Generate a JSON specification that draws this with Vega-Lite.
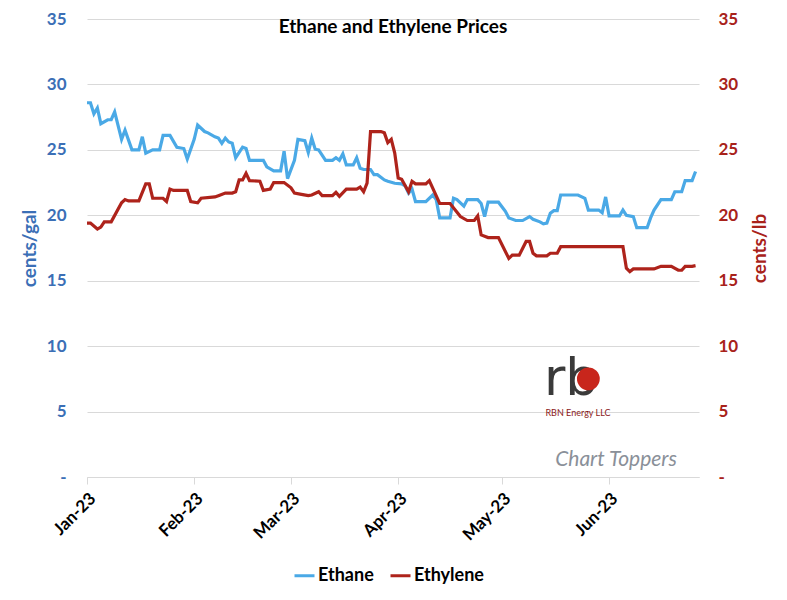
{
  "$schema": "https://vega.github.io/schema/vega-lite/v6.json",
  "width": 612,
  "height": 458,
  "autosize": "none",
  "padding": {"left": 87, "top": 19, "right": 88, "bottom": 123},
  "background": "white",
  "config": {
    "font": "Lato",
    "view": {"stroke": null},
    "axis": {"labelFont": "Lato", "titleFont": "Lato"},
    "legend": {"labelFont": "Lato"}
  },
  "title": {
    "text": "Ethane and Ethylene Prices",
    "font": "Lato",
    "fontSize": 19,
    "fontWeight": "bold",
    "color": "#000000",
    "anchor": "middle",
    "offset": 0,
    "dy": 27
  },
  "data": {
    "format": {"parse": {"date": "date:'%Y-%m-%d'"}},
    "values": [
      {"date": "2023-01-01", "series": "Ethane", "value": 28.6},
      {"date": "2023-01-02", "series": "Ethane", "value": 28.6},
      {"date": "2023-01-03", "series": "Ethane", "value": 27.75},
      {"date": "2023-01-04", "series": "Ethane", "value": 28.2},
      {"date": "2023-01-05", "series": "Ethane", "value": 27.0},
      {"date": "2023-01-07", "series": "Ethane", "value": 27.3},
      {"date": "2023-01-08", "series": "Ethane", "value": 27.3},
      {"date": "2023-01-09", "series": "Ethane", "value": 27.9},
      {"date": "2023-01-11", "series": "Ethane", "value": 25.8},
      {"date": "2023-01-12", "series": "Ethane", "value": 26.5},
      {"date": "2023-01-14", "series": "Ethane", "value": 25.0},
      {"date": "2023-01-16", "series": "Ethane", "value": 25.0},
      {"date": "2023-01-17", "series": "Ethane", "value": 26.0},
      {"date": "2023-01-18", "series": "Ethane", "value": 24.75},
      {"date": "2023-01-20", "series": "Ethane", "value": 25.0},
      {"date": "2023-01-22", "series": "Ethane", "value": 25.0},
      {"date": "2023-01-23", "series": "Ethane", "value": 26.1},
      {"date": "2023-01-25", "series": "Ethane", "value": 26.1},
      {"date": "2023-01-27", "series": "Ethane", "value": 25.2},
      {"date": "2023-01-29", "series": "Ethane", "value": 25.1},
      {"date": "2023-01-30", "series": "Ethane", "value": 24.3},
      {"date": "2023-02-01", "series": "Ethane", "value": 25.8},
      {"date": "2023-02-02", "series": "Ethane", "value": 26.9},
      {"date": "2023-02-04", "series": "Ethane", "value": 26.4},
      {"date": "2023-02-05", "series": "Ethane", "value": 26.3},
      {"date": "2023-02-07", "series": "Ethane", "value": 26.0},
      {"date": "2023-02-08", "series": "Ethane", "value": 25.9},
      {"date": "2023-02-09", "series": "Ethane", "value": 25.5},
      {"date": "2023-02-10", "series": "Ethane", "value": 25.9},
      {"date": "2023-02-11", "series": "Ethane", "value": 25.6},
      {"date": "2023-02-12", "series": "Ethane", "value": 25.5},
      {"date": "2023-02-13", "series": "Ethane", "value": 24.4},
      {"date": "2023-02-15", "series": "Ethane", "value": 25.2},
      {"date": "2023-02-16", "series": "Ethane", "value": 25.1},
      {"date": "2023-02-17", "series": "Ethane", "value": 24.2},
      {"date": "2023-02-21", "series": "Ethane", "value": 24.2},
      {"date": "2023-02-22", "series": "Ethane", "value": 23.7},
      {"date": "2023-02-24", "series": "Ethane", "value": 23.4},
      {"date": "2023-02-26", "series": "Ethane", "value": 23.4},
      {"date": "2023-02-27", "series": "Ethane", "value": 24.9},
      {"date": "2023-02-28", "series": "Ethane", "value": 22.8},
      {"date": "2023-03-02", "series": "Ethane", "value": 24.2},
      {"date": "2023-03-03", "series": "Ethane", "value": 25.8},
      {"date": "2023-03-05", "series": "Ethane", "value": 25.7},
      {"date": "2023-03-06", "series": "Ethane", "value": 24.8},
      {"date": "2023-03-07", "series": "Ethane", "value": 25.9},
      {"date": "2023-03-08", "series": "Ethane", "value": 25.05},
      {"date": "2023-03-09", "series": "Ethane", "value": 25.0},
      {"date": "2023-03-11", "series": "Ethane", "value": 24.2},
      {"date": "2023-03-13", "series": "Ethane", "value": 24.2},
      {"date": "2023-03-14", "series": "Ethane", "value": 24.4},
      {"date": "2023-03-15", "series": "Ethane", "value": 24.2},
      {"date": "2023-03-16", "series": "Ethane", "value": 24.7},
      {"date": "2023-03-17", "series": "Ethane", "value": 23.85},
      {"date": "2023-03-19", "series": "Ethane", "value": 23.85},
      {"date": "2023-03-20", "series": "Ethane", "value": 24.4},
      {"date": "2023-03-21", "series": "Ethane", "value": 23.6},
      {"date": "2023-03-22", "series": "Ethane", "value": 23.5},
      {"date": "2023-03-24", "series": "Ethane", "value": 23.5},
      {"date": "2023-03-25", "series": "Ethane", "value": 23.1},
      {"date": "2023-03-26", "series": "Ethane", "value": 23.1},
      {"date": "2023-03-28", "series": "Ethane", "value": 22.7},
      {"date": "2023-03-29", "series": "Ethane", "value": 22.6},
      {"date": "2023-03-31", "series": "Ethane", "value": 22.45},
      {"date": "2023-04-02", "series": "Ethane", "value": 22.4},
      {"date": "2023-04-03", "series": "Ethane", "value": 22.25},
      {"date": "2023-04-04", "series": "Ethane", "value": 21.7},
      {"date": "2023-04-05", "series": "Ethane", "value": 22.0},
      {"date": "2023-04-06", "series": "Ethane", "value": 21.05},
      {"date": "2023-04-09", "series": "Ethane", "value": 21.05},
      {"date": "2023-04-11", "series": "Ethane", "value": 21.55},
      {"date": "2023-04-12", "series": "Ethane", "value": 21.2},
      {"date": "2023-04-13", "series": "Ethane", "value": 19.8},
      {"date": "2023-04-16", "series": "Ethane", "value": 19.8},
      {"date": "2023-04-17", "series": "Ethane", "value": 21.3},
      {"date": "2023-04-18", "series": "Ethane", "value": 21.2},
      {"date": "2023-04-20", "series": "Ethane", "value": 20.7},
      {"date": "2023-04-21", "series": "Ethane", "value": 21.2},
      {"date": "2023-04-24", "series": "Ethane", "value": 21.2},
      {"date": "2023-04-25", "series": "Ethane", "value": 20.9},
      {"date": "2023-04-26", "series": "Ethane", "value": 19.9},
      {"date": "2023-04-27", "series": "Ethane", "value": 21.0},
      {"date": "2023-04-30", "series": "Ethane", "value": 21.0},
      {"date": "2023-05-02", "series": "Ethane", "value": 20.3},
      {"date": "2023-05-03", "series": "Ethane", "value": 19.8},
      {"date": "2023-05-05", "series": "Ethane", "value": 19.6},
      {"date": "2023-05-07", "series": "Ethane", "value": 19.6},
      {"date": "2023-05-09", "series": "Ethane", "value": 19.9},
      {"date": "2023-05-10", "series": "Ethane", "value": 19.7},
      {"date": "2023-05-12", "series": "Ethane", "value": 19.5},
      {"date": "2023-05-13", "series": "Ethane", "value": 19.35},
      {"date": "2023-05-14", "series": "Ethane", "value": 19.4},
      {"date": "2023-05-15", "series": "Ethane", "value": 20.15},
      {"date": "2023-05-16", "series": "Ethane", "value": 20.35},
      {"date": "2023-05-17", "series": "Ethane", "value": 20.35},
      {"date": "2023-05-18", "series": "Ethane", "value": 21.55},
      {"date": "2023-05-23", "series": "Ethane", "value": 21.55},
      {"date": "2023-05-25", "series": "Ethane", "value": 21.3},
      {"date": "2023-05-26", "series": "Ethane", "value": 20.4},
      {"date": "2023-05-29", "series": "Ethane", "value": 20.4},
      {"date": "2023-05-30", "series": "Ethane", "value": 20.2},
      {"date": "2023-05-31", "series": "Ethane", "value": 21.4},
      {"date": "2023-06-01", "series": "Ethane", "value": 19.95},
      {"date": "2023-06-04", "series": "Ethane", "value": 19.95},
      {"date": "2023-06-05", "series": "Ethane", "value": 20.4},
      {"date": "2023-06-06", "series": "Ethane", "value": 20.0},
      {"date": "2023-06-08", "series": "Ethane", "value": 19.9},
      {"date": "2023-06-09", "series": "Ethane", "value": 19.05},
      {"date": "2023-06-12", "series": "Ethane", "value": 19.05},
      {"date": "2023-06-13", "series": "Ethane", "value": 19.8},
      {"date": "2023-06-14", "series": "Ethane", "value": 20.4},
      {"date": "2023-06-16", "series": "Ethane", "value": 21.2},
      {"date": "2023-06-19", "series": "Ethane", "value": 21.2},
      {"date": "2023-06-20", "series": "Ethane", "value": 21.8},
      {"date": "2023-06-22", "series": "Ethane", "value": 21.8},
      {"date": "2023-06-23", "series": "Ethane", "value": 22.65},
      {"date": "2023-06-25", "series": "Ethane", "value": 22.65},
      {"date": "2023-06-26", "series": "Ethane", "value": 23.35},
      {"date": "2023-01-01", "series": "Ethylene", "value": 19.4},
      {"date": "2023-01-02", "series": "Ethylene", "value": 19.4},
      {"date": "2023-01-04", "series": "Ethylene", "value": 18.95},
      {"date": "2023-01-05", "series": "Ethylene", "value": 19.1},
      {"date": "2023-01-06", "series": "Ethylene", "value": 19.5},
      {"date": "2023-01-08", "series": "Ethylene", "value": 19.5},
      {"date": "2023-01-11", "series": "Ethylene", "value": 20.95},
      {"date": "2023-01-12", "series": "Ethylene", "value": 21.2},
      {"date": "2023-01-13", "series": "Ethylene", "value": 21.1},
      {"date": "2023-01-16", "series": "Ethylene", "value": 21.1},
      {"date": "2023-01-18", "series": "Ethylene", "value": 22.4},
      {"date": "2023-01-19", "series": "Ethylene", "value": 22.4},
      {"date": "2023-01-20", "series": "Ethylene", "value": 21.3},
      {"date": "2023-01-23", "series": "Ethylene", "value": 21.3},
      {"date": "2023-01-24", "series": "Ethylene", "value": 21.05},
      {"date": "2023-01-25", "series": "Ethylene", "value": 22.0},
      {"date": "2023-01-26", "series": "Ethylene", "value": 21.9},
      {"date": "2023-01-30", "series": "Ethylene", "value": 21.9},
      {"date": "2023-01-31", "series": "Ethylene", "value": 21.05},
      {"date": "2023-02-02", "series": "Ethylene", "value": 20.95},
      {"date": "2023-02-03", "series": "Ethylene", "value": 21.3},
      {"date": "2023-02-07", "series": "Ethylene", "value": 21.4},
      {"date": "2023-02-08", "series": "Ethylene", "value": 21.5},
      {"date": "2023-02-10", "series": "Ethylene", "value": 21.7},
      {"date": "2023-02-12", "series": "Ethylene", "value": 21.7},
      {"date": "2023-02-13", "series": "Ethylene", "value": 21.8},
      {"date": "2023-02-14", "series": "Ethylene", "value": 22.7},
      {"date": "2023-02-15", "series": "Ethylene", "value": 22.7},
      {"date": "2023-02-16", "series": "Ethylene", "value": 23.2},
      {"date": "2023-02-17", "series": "Ethylene", "value": 22.65},
      {"date": "2023-02-20", "series": "Ethylene", "value": 22.6},
      {"date": "2023-02-21", "series": "Ethylene", "value": 21.9},
      {"date": "2023-02-23", "series": "Ethylene", "value": 22.0},
      {"date": "2023-02-24", "series": "Ethylene", "value": 22.5},
      {"date": "2023-02-27", "series": "Ethylene", "value": 22.5},
      {"date": "2023-03-01", "series": "Ethylene", "value": 22.1},
      {"date": "2023-03-02", "series": "Ethylene", "value": 21.7},
      {"date": "2023-03-04", "series": "Ethylene", "value": 21.6},
      {"date": "2023-03-06", "series": "Ethylene", "value": 21.5},
      {"date": "2023-03-07", "series": "Ethylene", "value": 21.55},
      {"date": "2023-03-09", "series": "Ethylene", "value": 21.8},
      {"date": "2023-03-10", "series": "Ethylene", "value": 21.5},
      {"date": "2023-03-13", "series": "Ethylene", "value": 21.5},
      {"date": "2023-03-14", "series": "Ethylene", "value": 21.75},
      {"date": "2023-03-15", "series": "Ethylene", "value": 21.45},
      {"date": "2023-03-17", "series": "Ethylene", "value": 22.0},
      {"date": "2023-03-20", "series": "Ethylene", "value": 22.0},
      {"date": "2023-03-21", "series": "Ethylene", "value": 22.15},
      {"date": "2023-03-22", "series": "Ethylene", "value": 21.8},
      {"date": "2023-03-23", "series": "Ethylene", "value": 22.45},
      {"date": "2023-03-24", "series": "Ethylene", "value": 26.4},
      {"date": "2023-03-27", "series": "Ethylene", "value": 26.4},
      {"date": "2023-03-28", "series": "Ethylene", "value": 26.3},
      {"date": "2023-03-29", "series": "Ethylene", "value": 25.55},
      {"date": "2023-03-30", "series": "Ethylene", "value": 25.8},
      {"date": "2023-03-31", "series": "Ethylene", "value": 24.75},
      {"date": "2023-04-01", "series": "Ethylene", "value": 22.85},
      {"date": "2023-04-02", "series": "Ethylene", "value": 22.75},
      {"date": "2023-04-04", "series": "Ethylene", "value": 21.8},
      {"date": "2023-04-05", "series": "Ethylene", "value": 22.6},
      {"date": "2023-04-06", "series": "Ethylene", "value": 22.4},
      {"date": "2023-04-09", "series": "Ethylene", "value": 22.4},
      {"date": "2023-04-10", "series": "Ethylene", "value": 22.65},
      {"date": "2023-04-13", "series": "Ethylene", "value": 20.9},
      {"date": "2023-04-16", "series": "Ethylene", "value": 20.9},
      {"date": "2023-04-19", "series": "Ethylene", "value": 19.9},
      {"date": "2023-04-21", "series": "Ethylene", "value": 19.6},
      {"date": "2023-04-23", "series": "Ethylene", "value": 19.6},
      {"date": "2023-04-24", "series": "Ethylene", "value": 19.95},
      {"date": "2023-04-25", "series": "Ethylene", "value": 18.5},
      {"date": "2023-04-27", "series": "Ethylene", "value": 18.3},
      {"date": "2023-04-30", "series": "Ethylene", "value": 18.3},
      {"date": "2023-05-03", "series": "Ethylene", "value": 16.7},
      {"date": "2023-05-04", "series": "Ethylene", "value": 16.95},
      {"date": "2023-05-06", "series": "Ethylene", "value": 16.95},
      {"date": "2023-05-08", "series": "Ethylene", "value": 18.0},
      {"date": "2023-05-09", "series": "Ethylene", "value": 18.0},
      {"date": "2023-05-10", "series": "Ethylene", "value": 17.1},
      {"date": "2023-05-11", "series": "Ethylene", "value": 16.9},
      {"date": "2023-05-14", "series": "Ethylene", "value": 16.9},
      {"date": "2023-05-15", "series": "Ethylene", "value": 17.1},
      {"date": "2023-05-17", "series": "Ethylene", "value": 17.1},
      {"date": "2023-05-18", "series": "Ethylene", "value": 17.6},
      {"date": "2023-06-05", "series": "Ethylene", "value": 17.6},
      {"date": "2023-06-06", "series": "Ethylene", "value": 15.95},
      {"date": "2023-06-07", "series": "Ethylene", "value": 15.7},
      {"date": "2023-06-08", "series": "Ethylene", "value": 15.9},
      {"date": "2023-06-14", "series": "Ethylene", "value": 15.9},
      {"date": "2023-06-16", "series": "Ethylene", "value": 16.1},
      {"date": "2023-06-19", "series": "Ethylene", "value": 16.1},
      {"date": "2023-06-21", "series": "Ethylene", "value": 15.8},
      {"date": "2023-06-22", "series": "Ethylene", "value": 15.8},
      {"date": "2023-06-23", "series": "Ethylene", "value": 16.1},
      {"date": "2023-06-25", "series": "Ethylene", "value": 16.1},
      {"date": "2023-06-26", "series": "Ethylene", "value": 16.15}
    ]
  },
  "encoding": {
    "x": {
      "field": "date",
      "type": "temporal",
      "scale": {"domain": [{"year": 2023, "month": 1, "date": 1}, {"year": 2023, "month": 6, "date": 27}]},
      "axis": {
        "title": null,
        "format": "%b-%y",
        "tickCount": {"interval": "month", "step": 1},
        "labelAngle": -45,
        "labelFontSize": 17,
        "labelFontWeight": "bold",
        "labelColor": "#000000",
        "labelPadding": 6,
        "grid": false,
        "domainColor": "#d9d9d9",
        "tickColor": "#d9d9d9",
        "tickSize": 7
      }
    }
  },
  "layer": [
    {
      "transform": [{"filter": "datum.series === 'Ethane'"}],
      "mark": {"type": "line", "strokeWidth": 3.2, "interpolate": "linear"},
      "encoding": {
        "y": {
          "field": "value",
          "type": "quantitative",
          "scale": {"domain": [0, 35], "nice": false},
          "axis": {
            "orient": "left",
            "values": [0, 5, 10, 15, 20, 25, 30, 35],
            "labelExpr": "datum.value == 0 ? '-' : datum.label",
            "domain": false,
            "ticks": false,
            "grid": true,
            "gridColor": "#d9d9d9",
            "gridWidth": 1,
            "labelPadding": 21,
            "labelFontSize": 17,
            "labelFontWeight": "bold",
            "labelColor": "#3B6FB6",
            "title": "cents/gal",
            "titleFontSize": 19,
            "titleFontWeight": "bold",
            "titleColor": "#3B6FB6",
            "titlePadding": 7
          }
        },
        "color": {
          "field": "series",
          "type": "nominal",
          "scale": {"domain": ["Ethane", "Ethylene"], "range": ["#4AA9E6", "#AE231B"]},
          "legend": {
            "orient": "none",
            "legendX": 206,
            "legendY": 545,
            "direction": "horizontal",
            "title": null,
            "symbolType": "stroke",
            "symbolStrokeWidth": 3,
            "symbolSize": 400,
            "labelFontSize": 18,
            "labelFontWeight": "bold",
            "labelColor": "#000000",
            "labelOffset": 2,
            "columnPadding": 10
          }
        }
      }
    },
    {
      "transform": [{"filter": "datum.series === 'Ethylene'"}],
      "mark": {"type": "line", "strokeWidth": 3.2, "interpolate": "linear"},
      "encoding": {
        "y": {
          "field": "value",
          "type": "quantitative",
          "scale": {"domain": [0, 35], "nice": false},
          "axis": {
            "orient": "right",
            "values": [0, 5, 10, 15, 20, 25, 30, 35],
            "labelExpr": "datum.value == 0 ? '-' : datum.label",
            "domain": false,
            "ticks": false,
            "grid": false,
            "labelPadding": 19,
            "labelFontSize": 17,
            "labelFontWeight": "bold",
            "labelColor": "#A8221A",
            "title": "cents/lb",
            "titleAngle": 270,
            "titleFontSize": 19,
            "titleFontWeight": "bold",
            "titleColor": "#A8221A",
            "titlePadding": 32
          }
        },
        "color": {"field": "series", "type": "nominal"}
      }
    },
    {
      "transform": [{"filter": "datum.series === 'Ethane' && datum.value == 23.35"}],
      "mark": {"type": "text", "fontSize": 52, "fill": "#3a3a3a", "font": "DejaVu Sans", "baseline": "alphabetic", "align": "center"},
      "encoding": {
        "x": {"datum": {"year": 2023, "month": 5, "date": 21}, "type": "temporal"},
        "y": {"datum": 6.3, "type": "quantitative", "scale": {"domain": [0, 35], "nice": false}, "axis": null},
        "text": {"value": "rb"}
      }
    },
    {
      "transform": [{"filter": "datum.series === 'Ethane' && datum.value == 23.35"}],
      "mark": {"type": "point", "filled": true, "opacity": 1, "fill": "#C8261C", "size": 520},
      "encoding": {
        "x": {"datum": {"year": 2023, "month": 5, "date": 26}, "type": "temporal"},
        "y": {"datum": 7.5, "type": "quantitative", "scale": {"domain": [0, 35], "nice": false}, "axis": null}
      }
    },
    {
      "transform": [{"filter": "datum.series === 'Ethane' && datum.value == 23.35"}],
      "mark": {"type": "text", "fontSize": 9, "fill": "#8B1A1A", "font": "Lato"},
      "encoding": {
        "x": {"datum": {"year": 2023, "month": 5, "date": 23}, "type": "temporal"},
        "y": {"datum": 4.9, "type": "quantitative", "scale": {"domain": [0, 35], "nice": false}, "axis": null},
        "text": {"value": "RBN Energy LLC"}
      }
    },
    {
      "transform": [{"filter": "datum.series === 'Ethane' && datum.value == 23.35"}],
      "mark": {"type": "text", "fontSize": 21, "fontStyle": "italic", "fill": "#8A9099", "font": "Lato"},
      "encoding": {
        "x": {"datum": {"year": 2023, "month": 6, "date": 3}, "type": "temporal"},
        "y": {"datum": 1.3, "type": "quantitative", "scale": {"domain": [0, 35], "nice": false}, "axis": null},
        "text": {"value": "Chart Toppers"}
      }
    }
  ],
  "resolve": {"scale": {"y": "independent"}}
}
